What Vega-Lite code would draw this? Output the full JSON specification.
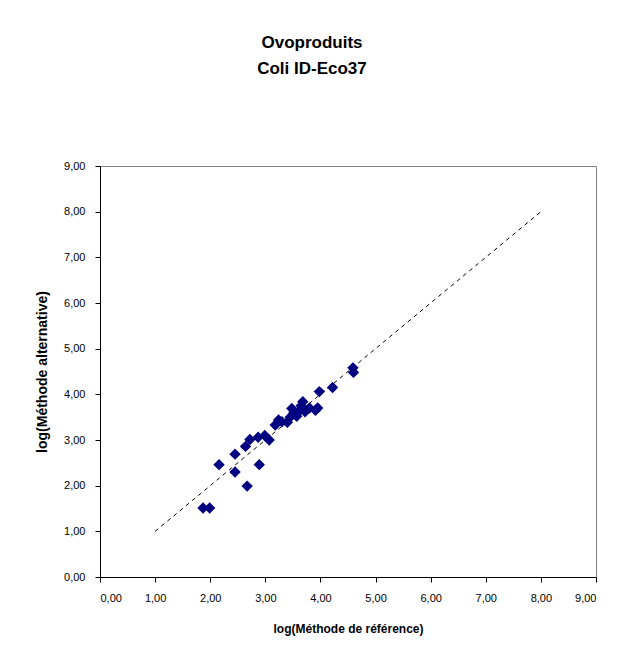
{
  "$schema": "https://vega.github.io/schema/vega-lite/v6.json",
  "autosize": "none",
  "width": 496,
  "height": 411,
  "padding": {"left": 100, "top": 166, "right": 28, "bottom": 89},
  "background": "white",
  "title": {
    "text": ["Ovoproduits", "Coli ID-Eco37"],
    "font": "Liberation Sans",
    "fontSize": 17,
    "fontWeight": "bold",
    "color": "black",
    "anchor": "middle",
    "dx": -36,
    "offset": 82,
    "lineHeight": 26
  },
  "config": {
    "view": {"stroke": "#808080", "strokeWidth": 1},
    "axis": {
      "grid": false,
      "domainColor": "black",
      "tickColor": "black",
      "labelColor": "black",
      "labelFont": "Liberation Sans",
      "labelFontSize": 11,
      "tickSize": 5,
      "titleFont": "Liberation Sans",
      "titleFontWeight": "bold",
      "titleFontSize": 11,
      "titleColor": "black"
    }
  },
  "layer": [
    {
      "data": {"values": [
        {"x": 1.0, "y": 1.0},
        {"x": 8.0, "y": 8.0}
      ]},
      "mark": {"type": "line", "color": "black", "strokeWidth": 1, "strokeDash": [4, 4]},
      "encoding": {
        "x": {"field": "x", "type": "quantitative"},
        "y": {"field": "y", "type": "quantitative"}
      }
    },
    {
      "data": {"values": [
        {"x": 1.87, "y": 1.51},
        {"x": 1.99, "y": 1.51},
        {"x": 2.16, "y": 2.46},
        {"x": 2.45, "y": 2.69},
        {"x": 2.45, "y": 2.30},
        {"x": 2.67, "y": 1.99},
        {"x": 2.64, "y": 2.86},
        {"x": 2.72, "y": 3.01},
        {"x": 2.87, "y": 3.06},
        {"x": 2.89, "y": 2.46},
        {"x": 2.99, "y": 3.10},
        {"x": 3.07, "y": 3.00},
        {"x": 3.18, "y": 3.33},
        {"x": 3.24, "y": 3.44},
        {"x": 3.30, "y": 3.40},
        {"x": 3.40, "y": 3.39},
        {"x": 3.45, "y": 3.50},
        {"x": 3.48, "y": 3.69},
        {"x": 3.52, "y": 3.60},
        {"x": 3.57, "y": 3.52},
        {"x": 3.62, "y": 3.64},
        {"x": 3.65, "y": 3.75},
        {"x": 3.68, "y": 3.84},
        {"x": 3.72, "y": 3.62},
        {"x": 3.80, "y": 3.70},
        {"x": 3.91, "y": 3.65},
        {"x": 3.95, "y": 3.70},
        {"x": 3.98, "y": 4.06},
        {"x": 4.22, "y": 4.15},
        {"x": 4.59, "y": 4.58},
        {"x": 4.60, "y": 4.48}
      ]},
      "mark": {"type": "point", "shape": "diamond", "filled": true, "color": "#000080", "opacity": 1, "size": 130},
      "encoding": {
        "x": {
          "field": "x", "type": "quantitative",
          "scale": {"domain": [0, 9], "nice": false},
          "axis": {
            "values": [0, 1, 2, 3, 4, 5, 6, 7, 8, 9],
            "format": ".2f",
            "labelExpr": "replace(datum.label, '.', ',')",
            "title": "log(Méthode de référence)",
            "titleFontSize": 12,
            "titlePadding": 20,
            "labelPadding": 10
          }
        },
        "y": {
          "field": "y", "type": "quantitative",
          "scale": {"domain": [0, 9], "nice": false},
          "axis": {
            "values": [0, 1, 2, 3, 4, 5, 6, 7, 8, 9],
            "format": ".2f",
            "labelExpr": "replace(datum.label, '.', ',')",
            "title": "log(Méthode alternative)",
            "titleFontSize": 14,
            "titlePadding": 14,
            "labelPadding": 10
          }
        }
      }
    }
  ]
}
